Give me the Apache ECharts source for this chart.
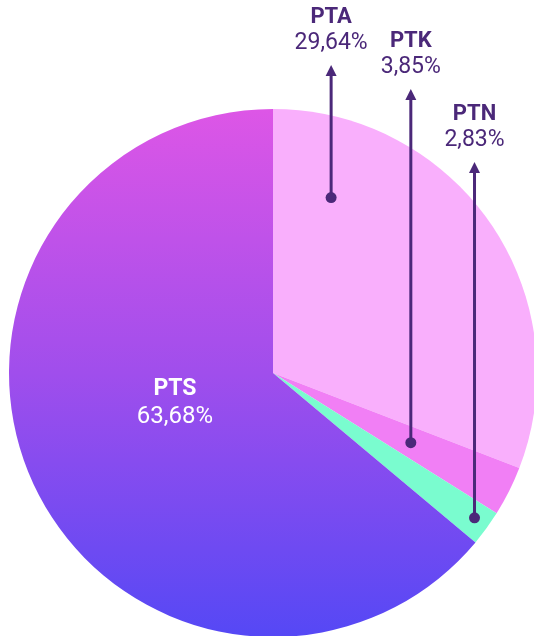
<!DOCTYPE html>
<html>
<head>
<meta charset="utf-8">
<script src="https://cdn.jsdelivr.net/npm/echarts@6/dist/echarts.min.js"></script>
<style>
  html, body { margin: 0; padding: 0; background: #fff; }
  #main { width: 534px; height: 636px; }
</style>
</head>
<body>
<div id="main"></div>
<script>
var names = ['PTA', 'PTK', 'PTN', 'PTS'];
// slice sizes as drawn in the picture (angles measured)
var sliceValues = [30.86, 3.06, 2.17, 63.91];
// percentages printed on the labels
var labelTexts = ['29,64%', '3,85%', '2,83%', '63,68%'];
var colors = ['#F9AFFC', '#F17FF5', '#7AFCCF', null];

// layout of the pie (pixels)
var CX = 273, CY = 373, R = 264;
var labelColor = '#4B2879';

// callouts: where the dot sits inside the slice and how high the arrow goes
var callouts = [
    { idx: 0, angleFrac: 0.165, rFrac: 0.70, tipY: 65 },
    { idx: 1, angleFrac: 0.52, rFrac: 0.585, tipY: 89 },
    { idx: 2, angleFrac: 0.46, rFrac: 0.94, tipY: 162 }
];

var total = sliceValues.reduce(function (a, b) { return a + b; }, 0);
var startAngles = [];
var acc = 0;
for (var i = 0; i < sliceValues.length; i++) {
    startAngles.push(acc / total * 360);
    acc += sliceValues[i];
}

var pieData = [];
for (var i = 0; i < names.length; i++) {
    var item = { name: names[i], value: sliceValues[i] };
    if (colors[i]) {
        item.itemStyle = { color: colors[i] };
        item.label = { show: false };
    } else {
        item.itemStyle = {
            color: new echarts.graphic.LinearGradient(0, 0, 0, 1, [
                { offset: 0, color: '#DD56E6' },
                { offset: 0.5, color: '#A04EEC' },
                { offset: 1, color: '#5548F5' }
            ])
        };
    }
    pieData.push(item);
}

var myChart = echarts.init(document.getElementById('main'));

var option = {
    animation: false,
    series: [
        {
            type: 'pie',
            z: 2,
            center: [CX, CY],
            radius: R,
            startAngle: 90,
            clockwise: true,
            silent: true,
            data: pieData,
            label: {
                show: true,
                position: 'inside',
                formatter: function (p) {
                    return '{n|' + p.name + '}\n{v|' + labelTexts[p.dataIndex] + '}';
                },
                rich: {
                    n: { fontFamily: 'Roboto', fontWeight: 'bold', fontSize: 23, color: '#fff', lineHeight: 28 },
                    v: { fontFamily: 'Roboto', fontSize: 24, color: '#fff', lineHeight: 28 }
                }
            },
            labelLine: { show: false },
            labelLayout: function (p) {
                if (p.dataIndex === 3) {
                    return { x: 175, y: 403, align: 'center', verticalAlign: 'middle' };
                }
            }
        },
        {
            type: 'custom',
            coordinateSystem: 'none',
            z: 10,
            silent: true,
            data: callouts.map(function (c) { return c.idx; }),
            renderItem: function (params, api) {
                var c = callouts[params.dataIndex];
                var i = c.idx;
                var span = sliceValues[i] / total * 360;
                var ang = (startAngles[i] + span * c.angleFrac) * Math.PI / 180;
                var r = R * c.rFrac;
                var x = CX + r * Math.sin(ang);
                var y = CY - r * Math.cos(ang);
                var tip = c.tipY;
                return {
                    type: 'group',
                    children: [
                        { type: 'line', shape: { x1: x, y1: y, x2: x, y2: tip + 8 },
                          style: { stroke: labelColor, lineWidth: 3 } },
                        { type: 'polygon', shape: { points: [[x, tip], [x - 5.5, tip + 11], [x + 5.5, tip + 11]] },
                          style: { fill: labelColor } },
                        { type: 'circle', shape: { cx: x, cy: y, r: 5.5 },
                          style: { fill: labelColor } },
                        { type: 'text', style: { text: labelTexts[i], x: x, y: tip - 22, align: 'center', verticalAlign: 'middle',
                          fill: labelColor, font: '23px Roboto' } },
                        { type: 'text', style: { text: names[i], x: x, y: tip - 48, align: 'center', verticalAlign: 'middle',
                          fill: labelColor, font: 'bold 22px Roboto' } }
                    ]
                };
            }
        }
    ]
};

myChart.setOption(option);
</script>
</body>
</html>
